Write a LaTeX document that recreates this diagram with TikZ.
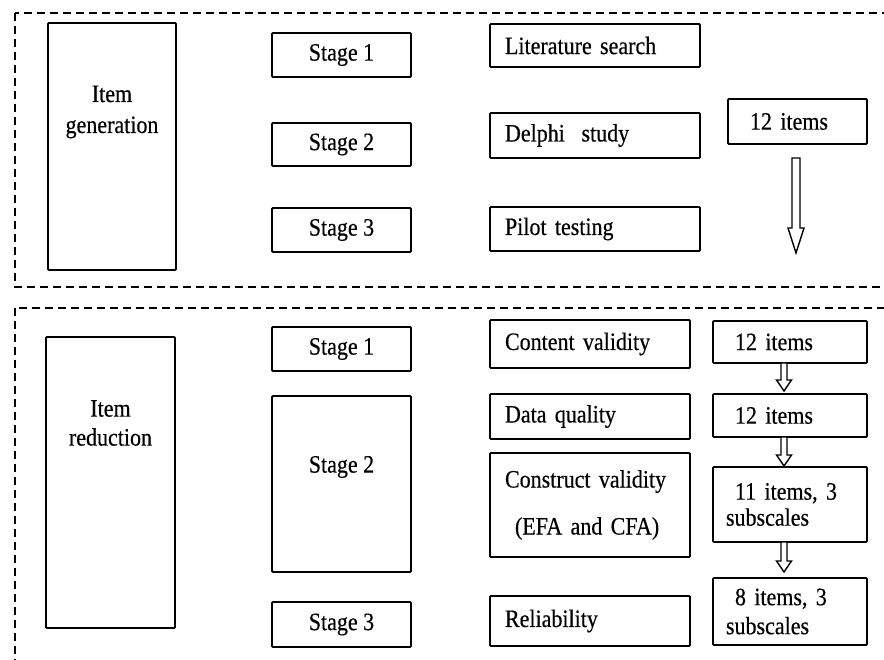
\documentclass[tikz,border=0pt]{standalone}
\usepackage{fontspec}
\setmainfont{Liberation Serif}[FakeStretch=0.88,FakeBold=0.4]
\usetikzlibrary{calc}
\newcommand\hollowarr[5]{%
  \draw[harrow] let \p1=(#1), \p2=(#2) in
   (\x1-#3,\y1) -- (\x1-#3,\y2+#5) -- (\x1-#4,\y2+#5) -- (\x1,\y2) -- (\x1+#4,\y2+#5) -- (\x1+#3,\y2+#5) -- (\x1+#3,\y1) -- cycle;}
\begin{document}
\begin{tikzpicture}[x=1pt,y=-1pt,
  font=\fontsize{25}{28}\selectfont,
  box/.style={draw, line width=1.8pt, rounded corners=1pt, inner sep=0pt, outer sep=0pt, align=center},
  midbox/.style={box, align=left, inner xsep=15pt, text width=#1},
  rbox/.style={box, align=left, inner xsep=13pt, text width=#1},
  frame/.style={line width=2.2pt, dash pattern=on 8pt off 5pt},
  harrow/.style={draw, line width=1.4pt, fill=white, line join=miter}]
\useasboundingbox (0,0) rectangle (884,660);
\clip (0,0) rectangle (884,660);
% dashed frames
\draw[frame] (15,13) rectangle (900,287);
\draw[frame] (15,308) rectangle (900,690);
% ---- Item generation ----
\node[box, minimum width=128pt, minimum height=247pt] (ig) at (112,146.5) {};
\node[align=center] (igt) at ([yshift=-89pt]ig.north) {Item\\[3pt]generation};
\node[box, minimum width=139pt, minimum height=44pt] (s1) at (341.5,55) {Stage 1};
\node[box, minimum width=139pt, minimum height=43pt] (s2) at (341.5,144.5) {Stage 2};
\node[box, minimum width=139pt, minimum height=44pt] (s3) at (341.5,230) {Stage 3};
\node[midbox=180pt, minimum height=43pt] (lit) at (595,45.5) {Literature search};
\node[midbox=180pt, minimum height=45pt] (del) at (595,135.5) {Delphi\ \ study};
\node[midbox=180pt, minimum height=44pt] (pil) at (595,229) {Pilot testing};
\node[rbox=113pt, minimum height=45pt] (ti) at (797.5,121.5) {\hspace*{9pt}12 items};
\coordinate (a0s) at ([xshift=-1.5pt,yshift=-14pt]ti.south);
\coordinate (a0e) at (796,253);
\hollowarr{a0s}{a0e}{4pt}{8pt}{25pt}
% ---- Item reduction ----
\node[box, minimum width=129pt, minimum height=291pt] (ir) at (110.5,482.5) {};
\node[align=center] (irt) at ([yshift=-86pt]ir.north) {Item\\[1pt]reduction};
\node[box, minimum width=139pt, minimum height=44pt] (b1) at (341.5,349) {Stage 1};
\node[box, minimum width=139pt, minimum height=176pt] (b2) at (341.5,484) {};
\node (b2t) at ([yshift=17pt]b2.center) {Stage 2};
\node[box, minimum width=139pt, minimum height=45pt] (b3) at (341.5,624.5) {Stage 3};
\node[midbox=170pt, minimum height=48pt] (cv) at (590,344) {Content validity};
\node[midbox=170pt, minimum height=45pt] (dq) at (590,416.5) {Data quality};
\node[midbox=170pt, minimum height=104pt] (co) at (590,505) {Construct validity\\[19pt]\hspace*{10pt}(EFA and CFA)};
\node[midbox=170pt, minimum height=50pt] (re) at (590,621) {Reliability};
\node[rbox=128pt, minimum height=42pt] (r1) at (790,342) {\hspace*{9pt}12 items};
\node[rbox=128pt, minimum height=43pt] (r2) at (790,415.5) {\hspace*{9pt}12 items};
\node[rbox=128pt, minimum height=75pt] (r3) at (790,504.5) {\hspace*{9pt}11 items, 3\\[-2pt]subscales};
\node[rbox=128pt, minimum height=67pt] (r4) at (790,611.5) {\hspace*{9pt}8 items, 3\\[1pt]subscales};
\coordinate (a1s) at ([xshift=-6pt]r1.south);
\coordinate (a1e) at ([xshift=-6pt,yshift=3pt]r2.north);
\coordinate (a2s) at ([xshift=-6pt]r2.south);
\coordinate (a2e) at ([xshift=-6pt,yshift=1pt]r3.north);
\coordinate (a3s) at ([xshift=-6pt]r3.south);
\coordinate (a3e) at ([xshift=-6pt,yshift=6pt]r4.north);
\hollowarr{a1s}{a1e}{3pt}{7.5pt}{11pt}
\hollowarr{a2s}{a2e}{3pt}{7.5pt}{11pt}
\hollowarr{a3s}{a3e}{3pt}{7.5pt}{11pt}
\end{tikzpicture}
\end{document}
